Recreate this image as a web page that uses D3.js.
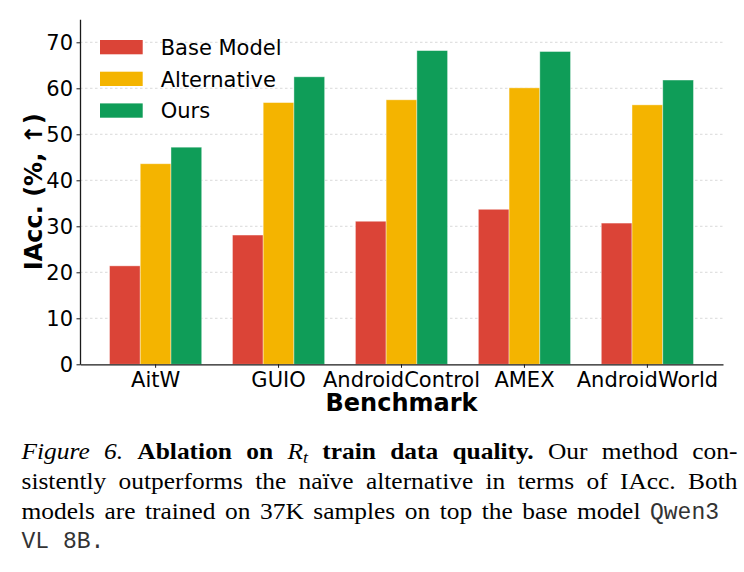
<!DOCTYPE html>
<html>
<head>
<meta charset="utf-8">
<script src="https://cdn.jsdelivr.net/npm/d3@7"></script>
<style>
  body { margin: 0; background: #fff; }
  svg { display: block; }
</style>
</head>
<body>
<script>
/********************************************************/
// chart data

const benchmarks = ["AitW", "GUIO", "AndroidControl", "AMEX", "AndroidWorld"];
const seriesNames = ["Base Model", "Alternative", "Ours"];
const baseModel = [21.4, 28.1, 31.1, 33.7, 30.7];
const alternative = [43.6, 56.9, 57.5, 60.1, 56.4];
const ours = [47.2, 62.5, 68.2, 68.0, 61.8];
const yTicks = [0, 10, 20, 30, 40, 50, 60, 70];

// caption, one array per printed line, words made of [text, style] pieces
const captionLine1 = [
  [["Figure", "i"]], [["6.", "i"]], [["Ablation", "b"]], [["on", "b"]],
  [["R", "i"], ["t", "sub"]], [["train", "b"]], [["data", "b"]], [["quality.", "b"]],
  [["Our", "r"]], [["method", "r"]], [["con-", "r"]]
];
const captionLine2 = "sistently outperforms the naïve alternative in terms of IAcc. Both"
  .split(" ").map((w) => [[w, "r"]]);
const captionLine3 = "models are trained on 37K samples on top the base model"
  .split(" ").map((w) => [[w, "r"]]).concat([[["Qwen3", "m"]]]);
const captionLine4 = [[["VL 8B.", "m"]]];

/********************************************************/

const svgWidth = 744;
const svgHeight = 572;

const chartMargin = { top: 19.3, left: 80, right: 21, bottom: 207.7 };
const chartWidth = svgWidth - chartMargin.left - chartMargin.right;
const chartHeight = svgHeight - chartMargin.top - chartMargin.bottom;

const colors = ["#DB4437", "#F4B400", "#0F9D58"];
const sans = "'DejaVu Sans', sans-serif";

const svg = d3.select("body").append("svg")
  .attr("width", svgWidth)
  .attr("height", svgHeight);

const chartGroup = svg.append("g")
  .attr("transform", `translate(${chartMargin.left}, ${chartMargin.top})`);

/************** scales ************/
const yScale = d3.scaleLinear().domain([0, 75]).range([chartHeight, 0]);

const xScale = d3.scaleBand()
  .domain(benchmarks)
  .range([0, chartWidth])
  .paddingInner(0.25)
  .paddingOuter(0.24);

const xSub = d3.scaleBand()
  .domain(seriesNames)
  .range([0, xScale.bandwidth()]);

/************** grid ************/
chartGroup.append("g")
  .selectAll("line")
  .data(yTicks.filter((d) => d > 0))
  .enter()
  .append("line")
  .attr("x1", 0)
  .attr("x2", chartWidth)
  .attr("y1", (d) => yScale(d))
  .attr("y2", (d) => yScale(d))
  .attr("stroke", "#cfcfcf")
  .attr("stroke-width", 0.8)
  .attr("stroke-dasharray", "2.5,2.5");

/************** bars ************/
const values = [baseModel, alternative, ours];
const rows = [];
benchmarks.forEach((b, i) => {
  seriesNames.forEach((s, j) => rows.push({ bench: b, series: s, k: j, value: values[j][i] }));
});

chartGroup.append("g")
  .selectAll("rect")
  .data(rows)
  .enter()
  .append("rect")
  .attr("x", (d) => xScale(d.bench) + xSub(d.series))
  .attr("y", (d) => yScale(d.value))
  .attr("width", xSub.bandwidth())
  .attr("height", (d) => chartHeight - yScale(d.value))
  .attr("fill", (d) => colors[d.k])
  .attr("stroke", "#fff")
  .attr("stroke-opacity", 0.5)
  .attr("stroke-width", 0.8);

/************** axes ************/
const leftAxis = d3.axisLeft(yScale).tickValues(yTicks).tickSize(3.5).tickSizeOuter(0).tickPadding(3.5);
const bottomAxis = d3.axisBottom(xScale).tickSize(3.5).tickSizeOuter(0).tickPadding(4.3);

const yAxisG = chartGroup.append("g").call(leftAxis);
const xAxisG = chartGroup.append("g")
  .attr("transform", `translate(0, ${chartHeight})`)
  .call(bottomAxis);

[yAxisG, xAxisG].forEach((g) => {
  g.attr("font-family", sans).attr("font-size", "21px");
  g.select(".domain").attr("stroke", "#1a1a1a").attr("stroke-width", 1.3);
  g.selectAll(".tick line").attr("stroke", "#1a1a1a").attr("stroke-width", 1);
  g.selectAll(".tick text").attr("fill", "#000");
});

/************** axis labels ************/
chartGroup.append("text")
  .text("IAcc. (%, ↑)")
  .attr("transform", `translate(${41.5 - chartMargin.left}, ${chartHeight / 2}) rotate(-90)`)
  .attr("text-anchor", "middle")
  .attr("font-family", sans)
  .attr("font-weight", "bold")
  .attr("font-size", "24px");

chartGroup.append("text")
  .text("Benchmark")
  .attr("x", chartWidth / 2)
  .attr("y", 411 - chartMargin.top)
  .attr("text-anchor", "middle")
  .attr("font-family", sans)
  .attr("font-weight", "bold")
  .attr("font-size", "24px");

/************** legend ************/
const legend = svg.append("g").attr("transform", "translate(100, 40)");
seriesNames.forEach((name, i) => {
  legend.append("rect")
    .attr("x", 0)
    .attr("y", i * 31.7)
    .attr("width", 42.7)
    .attr("height", 14.3)
    .attr("fill", colors[i]);
  legend.append("text")
    .text(name)
    .attr("x", 60.7)
    .attr("y", i * 31.7 + 15)
    .attr("font-family", sans)
    .attr("font-size", "21px");
});

/************** caption ************/
const serifFont = "'Liberation Serif', 'Times New Roman', serif";
const monoFont = "'Liberation Mono', 'Courier New', monospace";
const stretch = 1.13; // the printed caption is a bit wider than Liberation Serif

function drawLine(words, baseline, left, right) {
  const g = svg.append("g");
  const nodes = words.map((pieces) => {
    const t = g.append("text")
      .attr("y", baseline)
      .attr("font-size", "22.5px")
      .attr("font-family", serifFont)
      .style("white-space", "pre");
    pieces.forEach(([txt, st]) => {
      const sp = t.append("tspan").text(txt);
      if (st === "i") sp.attr("font-style", "italic");
      if (st === "b") sp.attr("font-weight", "bold");
      if (st === "m") sp.attr("font-family", monoFont).attr("font-size", "23px").attr("fill", "#333");
      if (st === "sub") sp.attr("font-style", "italic").attr("font-size", "16px").attr("dy", 4);
    });
    t.datum(pieces[0][1]);
    return t;
  });
  const widths = nodes.map((t) => {
    const w = t.node().getComputedTextLength();
    if (t.datum() === "m") return w;
    t.attr("textLength", w * stretch).attr("lengthAdjust", "spacingAndGlyphs");
    return w * stretch;
  });
  const total = d3.sum(widths);
  const gap = right == null || nodes.length < 2 ? 0 : (right - left - total) / (nodes.length - 1);
  let x = left;
  nodes.forEach((t, i) => {
    t.attr("x", x);
    x += widths[i] + gap;
  });
}

drawLine(captionLine1, 459.3, 21.5, 737.5);
drawLine(captionLine2, 489.3, 21.5, 737.5);
drawLine(captionLine3, 518.5, 21.5, 719);
drawLine(captionLine4, 547.7, 21.5, null);
</script>
</body>
</html>
